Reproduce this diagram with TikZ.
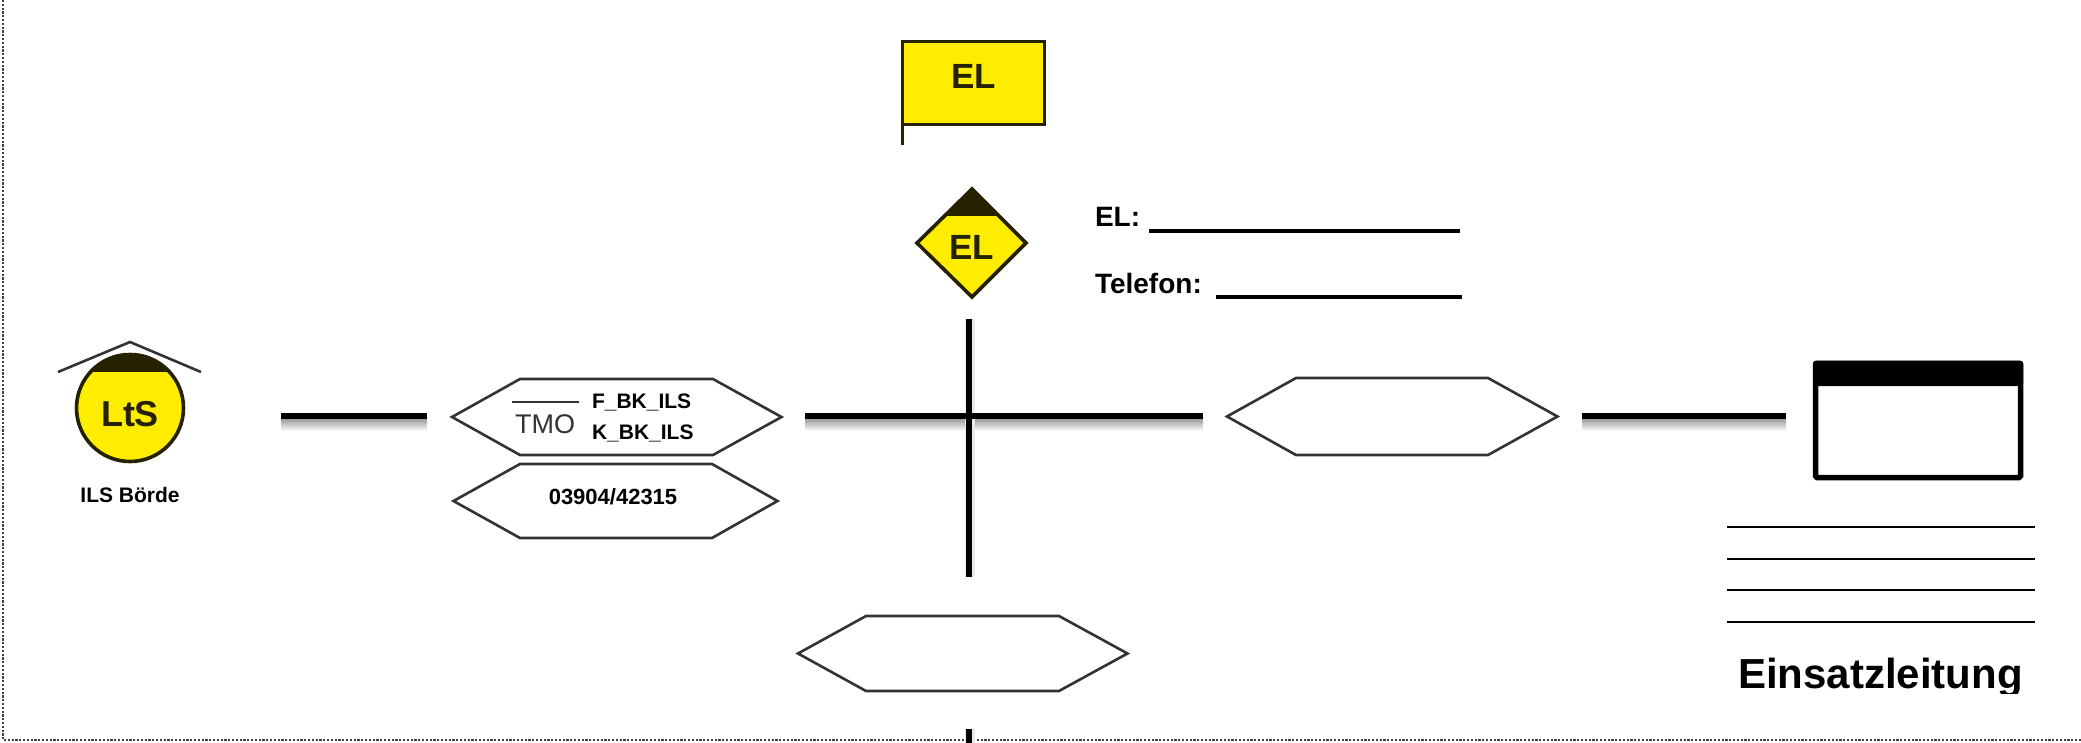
\documentclass[tikz,border=0pt]{standalone}
\usepackage{fontspec}
\setmainfont{Liberation Sans}
\definecolor{signY}{HTML}{FFED00}
\definecolor{signD}{HTML}{262200}
\definecolor{hexc}{HTML}{333333}
\newcommand{\fs}[1]{\fontsize{#1}{#1}\selectfont}
\newcommand{\hexa}[6]{% left x, tl x, tr x, right x, top y, bottom y
  \draw[hexline] (#1,{(#5+#6)/2}) -- (#2,#5) -- (#3,#5) -- (#4,{(#5+#6)/2}) -- (#3,#6) -- (#2,#6) -- cycle;}
\tikzset{
  hexline/.style={draw=hexc,line width=2.6pt,line join=miter},
  thick line/.style={draw=black,line width=6pt},
  rule line/.style={draw=black,line width=3.2pt},
  thin rule/.style={draw=black,line width=2.6pt},
  sign/.style={draw=signD,line width=3.6pt,fill=signY,line join=miter},
  txt/.style={inner sep=0pt,outer sep=0pt,font=\bfseries\fs{21}},
  signtxt/.style={inner sep=0pt,outer sep=0pt,text=signD,font=\bfseries\fs{#1}},
  frame line/.style={draw=black!75,line width=1.1pt,dash pattern=on 2.2pt off 1.6pt},
  shadowH/.style={top color=black!45,bottom color=white,draw=none},
}
\begin{document}
\begin{tikzpicture}[x=1pt,y=-1pt]
\useasboundingbox (0,0) rectangle (2081,743);
% frame
\coordinate (f1) at (3,0); \coordinate (f2) at (3,740); \coordinate (f3) at (2081,740);
\draw[frame line] (f1) -- (f2) -- (f3);
% connector coordinates
\coordinate (a1) at (281,416); \coordinate (a2) at (427,416);
\coordinate (b1) at (805,416); \coordinate (b2) at (1203,416);
\coordinate (c1) at (1582,416); \coordinate (c2) at (1786,416);
\coordinate (v1) at (969,319); \coordinate (v2) at (969,577);
\coordinate (w1) at (969,729); \coordinate (w2) at (969,743);
% shadows
\shade[shadowH] (281,417) rectangle (427,431);
\shade[shadowH] (805,417) rectangle (1203,431);
\shade[shadowH] (1582,417) rectangle (1786,431);
\fill[black!8] (965,319) rectangle (975,577);
\fill[black!8] (965,729) rectangle (975,743);
% lines
\draw[thick line] (a1) -- (a2);
\draw[thick line] (b1) -- (b2);
\draw[thick line] (c1) -- (c2);
\draw[thick line] (v1) -- (v2);
\draw[thick line] (w1) -- (w2);
% LtS sign
\draw[sign] (130,408) circle (53.5);
\begin{scope}
  \clip (60,345) rectangle (200,372);
  \fill[signD] (130,408) circle (55);
\end{scope}
\draw[draw=hexc,line width=2.6pt] (58,372) -- (130,342) -- (201,372);
\node[signtxt=36] (lts) at (130,414) {LtS};
\node[txt] (ils) at (130,495) {ILS Börde};
% hexagons
\hexa{452}{520}{713}{781.5}{379}{455}
\hexa{453.5}{520}{712}{777.5}{464}{538}
\hexa{1227}{1296}{1488}{1557.5}{378}{455}
\hexa{798}{866}{1059}{1127.5}{616}{691}
% hexagon 1 contents
\coordinate (t1) at (512,402); \coordinate (t2) at (579,402);
\draw[draw=hexc,line width=2.4pt] (t1) -- (t2);
\node[inner sep=0pt,text=hexc,font=\fs{27}] (tmo) at (545,424) {TMO};
\node[txt,anchor=west] (fbk) at (592,402) {F\_BK\_ILS};
\node[txt,anchor=west] (kbk) at (592,433) {K\_BK\_ILS};
\node[txt,font=\bfseries\fs{22}] (tel) at (613,497) {03904/42315};
% flag
\coordinate (p1) at (902.5,124.5); \coordinate (p2) at (902.5,145);
\draw[sign] (902.5,41.5) rectangle (1044.5,124.5);
\draw[draw=signD,line width=3.6pt] (p1) -- (p2);
\node[signtxt=35] (el1) at (973.5,76) {EL};
% diamond
\draw[sign] (972,189) -- (1026,243) -- (972,297) -- (917,243) -- cycle;
\fill[signD] (972,188) -- (1000,216) -- (944,216) -- cycle;
\node[signtxt=35] (el2) at (972,247) {EL};
% fields
\node[txt,font=\bfseries\fs{28},anchor=base west] (lab1) at (1095,227) {EL:};
\node[txt,font=\bfseries\fs{28},anchor=base west] (lab2) at (1095,294) {Telefon:};
\coordinate (r1) at (1149,231); \coordinate (r2) at (1460,231);
\coordinate (r3) at (1216,297); \coordinate (r4) at (1462,297);
\draw[rule line] (r1) -- (r2);
\draw[rule line] (r3) -- (r4);
% box
\draw[draw=black,line width=5.5pt,fill=white,rounded corners=1.5pt] (1815.5,363.5) rectangle (2020.5,477.5);
\fill[black,rounded corners=1.5pt] (1813,361) rectangle (2023,386);
% lines above title
\foreach \n/\yy in {l1/527,l2/559,l3/590,l4/622}{
  \coordinate (\n a) at (1727,\yy); \coordinate (\n b) at (2035,\yy);
  \draw[thin rule] (\n a) -- (\n b);
}
% title
\begin{scope}
  \clip (1700,650) rectangle (2060,693);
  \node[inner sep=0pt,font=\bfseries\fs{42},anchor=base] (title) at (1880.5,688) {Einsatzleitung};
\end{scope}
\end{tikzpicture}
\end{document}
